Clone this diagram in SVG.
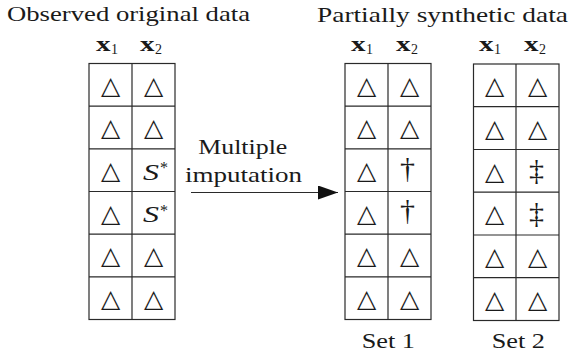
<svg xmlns="http://www.w3.org/2000/svg" width="571" height="355" viewBox="0 0 571 355">
<style>
.t{font-family:"Liberation Serif","Times New Roman",serif;font-size:21px;fill:#1a1a1a}
.bx{font-family:"Liberation Serif","Times New Roman",serif;font-size:21px;font-weight:bold;fill:#1a1a1a}
.sub{font-family:"Liberation Serif","Times New Roman",serif;font-size:14px;fill:#1a1a1a}
.tri{font-family:"DejaVu Sans",sans-serif;font-size:25px;text-anchor:middle;fill:#1a1a1a}
.it{font-family:"Liberation Serif","Times New Roman",serif;font-size:24px;font-style:italic;fill:#1a1a1a}
.sup{font-family:"Liberation Serif","Times New Roman",serif;font-size:16px;fill:#1a1a1a}
.dag{font-family:"Liberation Serif","Times New Roman",serif;font-size:30px;text-anchor:middle;fill:#1a1a1a}
.grid{fill:none;stroke:#2a2a2a;stroke-width:1.2}
.conn{stroke:#2a2a2a;stroke-width:1.2;fill:none}
</style>
<defs>
<marker id="ah" markerWidth="20" markerHeight="14" refX="20" refY="7" orient="auto" markerUnits="userSpaceOnUse">
<polygon points="0,0 20,7 0,14" fill="#111"/>
</marker>
</defs>

<text class="t" x="7" y="21" textLength="243" lengthAdjust="spacingAndGlyphs">Observed original data</text>
<text class="t" x="317" y="21.5" textLength="251" lengthAdjust="spacingAndGlyphs">Partially synthetic data</text>

<g id="table-original">
<text class="bx" x="96" y="51" textLength="14.5" lengthAdjust="spacingAndGlyphs">x</text><text class="sub" x="111" y="54">1</text>
<text class="bx" x="140" y="51" textLength="14.5" lengthAdjust="spacingAndGlyphs">x</text><text class="sub" x="155" y="54">2</text>
<rect class="grid" x="89" y="63.5" width="86" height="256"/>
<path class="grid" d="M132,63.5V319.5M89,106.2H175M89,148.8H175M89,191.5H175M89,234.2H175M89,276.8H175"/>
<text class="tri" x="110.5" y="93.5">△</text><text class="tri" x="153.5" y="93.5">△</text>
<text class="tri" x="110.5" y="136.2">△</text><text class="tri" x="153.5" y="136.2">△</text>
<text class="tri" x="110.5" y="178.8">△</text><text class="it" x="143" y="179.5" textLength="16" lengthAdjust="spacingAndGlyphs">S</text><text class="sup" x="160" y="173">*</text>
<text class="tri" x="110.5" y="221.5">△</text><text class="it" x="143" y="222.2" textLength="16" lengthAdjust="spacingAndGlyphs">S</text><text class="sup" x="160" y="215.7">*</text>
<text class="tri" x="110.5" y="264.2">△</text><text class="tri" x="153.5" y="264.2">△</text>
<text class="tri" x="110.5" y="306.8">△</text><text class="tri" x="153.5" y="306.8">△</text>
</g>

<g id="label-multiple-imputation">
<text class="t" x="198.3" y="154" textLength="89" lengthAdjust="spacingAndGlyphs">Multiple</text>
<text class="t" x="185" y="181.5" textLength="117" lengthAdjust="spacingAndGlyphs">imputation</text>
</g>

<g id="connectors">
<line class="conn" x1="191" y1="192.5" x2="338" y2="192.5" marker-end="url(#ah)"/>
</g>

<g id="table-set1">
<text class="bx" x="351" y="51" textLength="14.5" lengthAdjust="spacingAndGlyphs">x</text><text class="sub" x="366" y="54">1</text>
<text class="bx" x="396" y="51" textLength="14.5" lengthAdjust="spacingAndGlyphs">x</text><text class="sub" x="411" y="54">2</text>
<rect class="grid" x="345" y="63.5" width="86" height="256"/>
<path class="grid" d="M388,63.5V319.5M345,106.2H431M345,148.8H431M345,191.5H431M345,234.2H431M345,276.8H431"/>
<text class="tri" x="366.5" y="93.5">△</text><text class="tri" x="409.5" y="93.5">△</text>
<text class="tri" x="366.5" y="136.2">△</text><text class="tri" x="409.5" y="136.2">△</text>
<text class="tri" x="366.5" y="178.8">△</text><text class="dag" x="407.5" y="177.5">†</text>
<text class="tri" x="366.5" y="221.5">△</text><text class="dag" x="407.5" y="220.2">†</text>
<text class="tri" x="366.5" y="264.2">△</text><text class="tri" x="409.5" y="264.2">△</text>
<text class="tri" x="366.5" y="306.8">△</text><text class="tri" x="409.5" y="306.8">△</text>
<text class="t" x="361.7" y="348.3" textLength="53.3" lengthAdjust="spacingAndGlyphs">Set 1</text>
</g>

<g id="table-set2">
<text class="bx" x="479" y="51" textLength="14.5" lengthAdjust="spacingAndGlyphs">x</text><text class="sub" x="494" y="54">1</text>
<text class="bx" x="524" y="51" textLength="14.5" lengthAdjust="spacingAndGlyphs">x</text><text class="sub" x="539" y="54">2</text>
<rect class="grid" x="473.5" y="64" width="85.5" height="256.5"/>
<path class="grid" d="M516,64V320.5M473.5,106.7H559M473.5,149.5H559M473.5,192.2H559M473.5,235H559M473.5,277.7H559"/>
<text class="tri" x="494.7" y="94">△</text><text class="tri" x="537.5" y="94">△</text>
<text class="tri" x="494.7" y="136.7">△</text><text class="tri" x="537.5" y="136.7">△</text>
<text class="tri" x="494.7" y="179.5">△</text><text class="dag" x="536.5" y="180">‡</text>
<text class="tri" x="494.7" y="222.2">△</text><text class="dag" x="536.5" y="222.7">‡</text>
<text class="tri" x="494.7" y="265">△</text><text class="tri" x="537.5" y="265">△</text>
<text class="tri" x="494.7" y="307.8">△</text><text class="tri" x="537.5" y="307.8">△</text>
<text class="t" x="491.7" y="348.3" textLength="53.3" lengthAdjust="spacingAndGlyphs">Set 2</text>
</g>
</svg>
